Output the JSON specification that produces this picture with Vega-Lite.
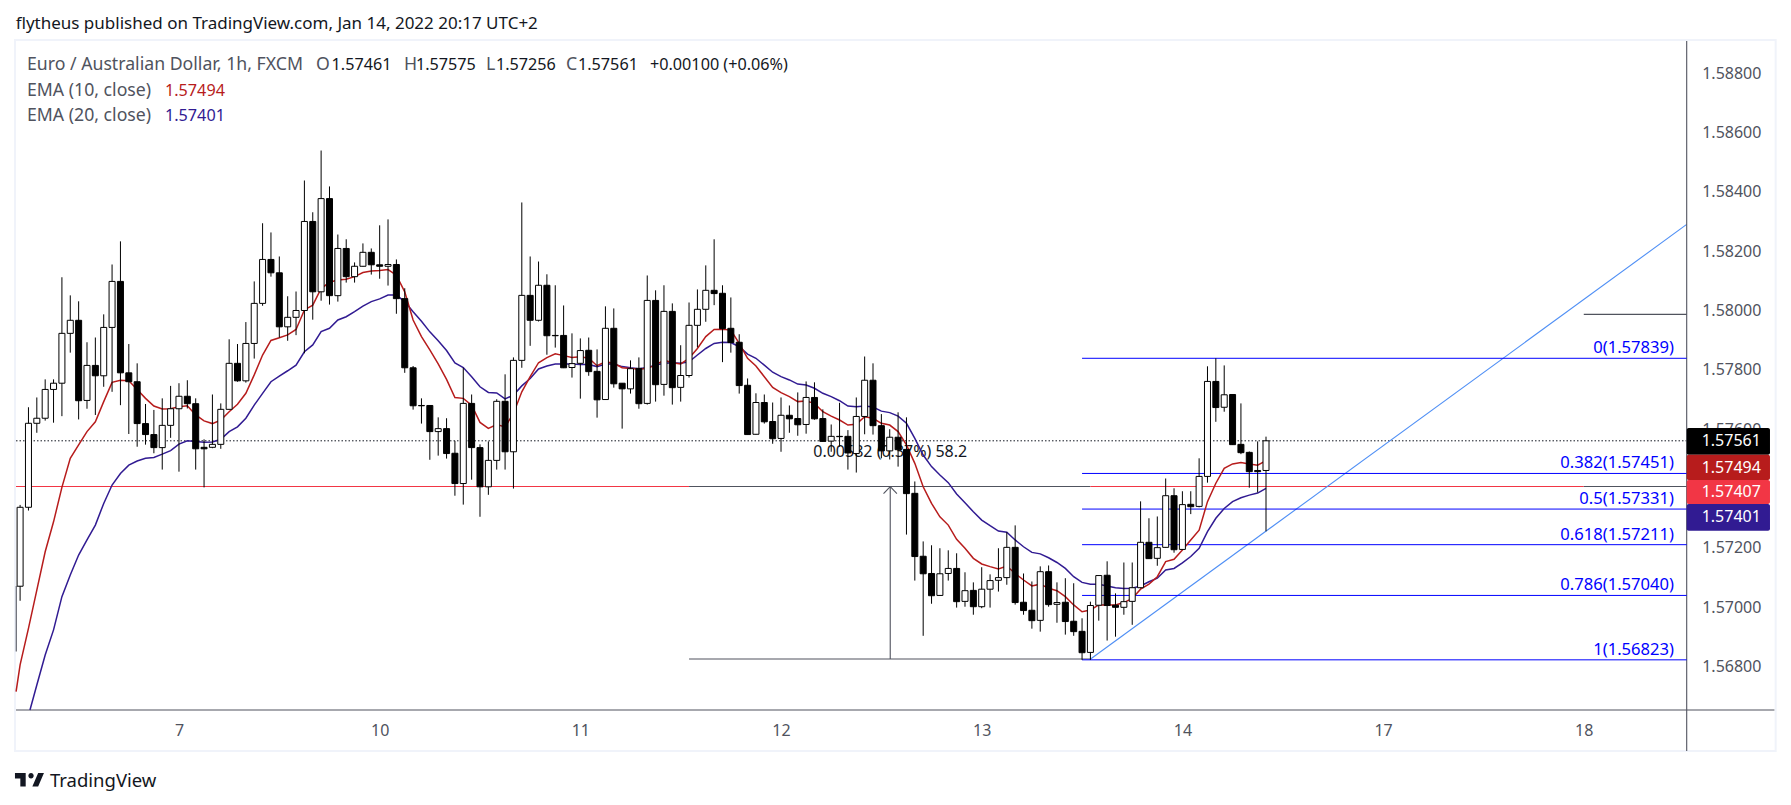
{"$schema":"https://vega.github.io/schema/vega-lite/v6.json","width":1670.7,"height":669,"autosize":"none","padding":{"left":16,"top":41,"right":104.3,"bottom":95},"background":"#ffffff","view":{"stroke":null},
"config":{"font":"Noto Sans","text":{"font":"Noto Sans","fontSize":16}},
"datasets":{
"candles":[{"i":-19,"o":1.57071,"h":1.57345,"l":1.57022,"c":1.57337},{"i":-18,"o":1.57337,"h":1.57674,"l":1.57326,"c":1.5762},{"i":-17,"o":1.5762,"h":1.57707,"l":1.57588,"c":1.57637},{"i":-16,"o":1.57637,"h":1.57768,"l":1.57629,"c":1.57734},{"i":-15,"o":1.57734,"h":1.57768,"l":1.57622,"c":1.57755},{"i":-14,"o":1.57755,"h":1.58112,"l":1.57644,"c":1.57923},{"i":-13,"o":1.57923,"h":1.58051,"l":1.57858,"c":1.57967},{"i":-12,"o":1.57967,"h":1.58031,"l":1.57633,"c":1.57696},{"i":-11,"o":1.57697,"h":1.57893,"l":1.57669,"c":1.57815},{"i":-10,"o":1.57815,"h":1.57909,"l":1.57648,"c":1.5778},{"i":-9,"o":1.5778,"h":1.57987,"l":1.57743,"c":1.57943},{"i":-8,"o":1.57943,"h":1.58155,"l":1.57726,"c":1.58098},{"i":-7,"o":1.58098,"h":1.58233,"l":1.57681,"c":1.5779},{"i":-6,"o":1.5779,"h":1.57887,"l":1.57584,"c":1.5776},{"i":-5,"o":1.5776,"h":1.57822,"l":1.57541,"c":1.57619},{"i":-4,"o":1.57619,"h":1.57685,"l":1.57548,"c":1.57582},{"i":-3,"o":1.57582,"h":1.57665,"l":1.57519,"c":1.57538},{"i":-2,"o":1.57538,"h":1.57704,"l":1.57464,"c":1.57613},{"i":-1,"o":1.57613,"h":1.57746,"l":1.57571,"c":1.57669},{"i":0,"o":1.57669,"h":1.57755,"l":1.57457,"c":1.57711},{"i":1,"o":1.57711,"h":1.57765,"l":1.5767,"c":1.57686},{"i":2,"o":1.57686,"h":1.57704,"l":1.57464,"c":1.57534},{"i":3,"o":1.57539,"h":1.57566,"l":1.57404,"c":1.57534},{"i":4,"o":1.57539,"h":1.57717,"l":1.57536,"c":1.57549},{"i":5,"o":1.57549,"h":1.57687,"l":1.57534,"c":1.57667},{"i":6,"o":1.57667,"h":1.57903,"l":1.57667,"c":1.57822},{"i":7,"o":1.57822,"h":1.57887,"l":1.5776,"c":1.57763},{"i":8,"o":1.57763,"h":1.57961,"l":1.57757,"c":1.57889},{"i":9,"o":1.57889,"h":1.58098,"l":1.57838,"c":1.58024},{"i":10,"o":1.58024,"h":1.58294,"l":1.58016,"c":1.58172},{"i":11,"o":1.58172,"h":1.58263,"l":1.58114,"c":1.58127},{"i":12,"o":1.58127,"h":1.58182,"l":1.57909,"c":1.57945},{"i":13,"o":1.57945,"h":1.58048,"l":1.57898,"c":1.57977},{"i":14,"o":1.57977,"h":1.58064,"l":1.57917,"c":1.58},{"i":15,"o":1.58,"h":1.58438,"l":1.57856,"c":1.583},{"i":16,"o":1.583,"h":1.58331,"l":1.57969,"c":1.58063},{"i":17,"o":1.58063,"h":1.58539,"l":1.58033,"c":1.58377},{"i":18,"o":1.58377,"h":1.58418,"l":1.5802,"c":1.5805},{"i":19,"o":1.5805,"h":1.58256,"l":1.5803,"c":1.58209},{"i":20,"o":1.58209,"h":1.5824,"l":1.58094,"c":1.58114},{"i":21,"o":1.58114,"h":1.58162,"l":1.58094,"c":1.58149},{"i":22,"o":1.58149,"h":1.58226,"l":1.58148,"c":1.58196},{"i":23,"o":1.58196,"h":1.58209,"l":1.58121,"c":1.58154},{"i":24,"o":1.58154,"h":1.58287,"l":1.58107,"c":1.58149},{"i":25,"o":1.58149,"h":1.58307,"l":1.58084,"c":1.58155},{"i":26,"o":1.58155,"h":1.58172,"l":1.57989,"c":1.5804},{"i":27,"o":1.5804,"h":1.58075,"l":1.5779,"c":1.57807},{"i":28,"o":1.57807,"h":1.57813,"l":1.57666,"c":1.57679},{"i":29,"o":1.5768,"h":1.57704,"l":1.57619,"c":1.57679},{"i":30,"o":1.5768,"h":1.5768,"l":1.57497,"c":1.57592},{"i":31,"o":1.57592,"h":1.5764,"l":1.57511,"c":1.57602},{"i":32,"o":1.57602,"h":1.57637,"l":1.57501,"c":1.57518},{"i":33,"o":1.57519,"h":1.57561,"l":1.57376,"c":1.57417},{"i":34,"o":1.57417,"h":1.57807,"l":1.57346,"c":1.57687},{"i":35,"o":1.57687,"h":1.57717,"l":1.5743,"c":1.57538},{"i":36,"o":1.57538,"h":1.57549,"l":1.57305,"c":1.57406},{"i":37,"o":1.57406,"h":1.57559,"l":1.57379,"c":1.57495},{"i":38,"o":1.57495,"h":1.57701,"l":1.57464,"c":1.57694},{"i":39,"o":1.57694,"h":1.57785,"l":1.57464,"c":1.57524},{"i":40,"o":1.57524,"h":1.57842,"l":1.574,"c":1.57832},{"i":41,"o":1.57832,"h":1.58364,"l":1.57807,"c":1.58051},{"i":42,"o":1.58051,"h":1.58182,"l":1.57881,"c":1.57967},{"i":43,"o":1.57967,"h":1.58165,"l":1.57963,"c":1.58085},{"i":44,"o":1.58085,"h":1.58122,"l":1.57851,"c":1.57915},{"i":45,"o":1.57916,"h":1.58085,"l":1.57875,"c":1.57915},{"i":46,"o":1.57916,"h":1.58017,"l":1.57806,"c":1.57807},{"i":47,"o":1.57808,"h":1.57923,"l":1.57774,"c":1.57821},{"i":48,"o":1.57822,"h":1.57906,"l":1.57703,"c":1.57865},{"i":49,"o":1.57866,"h":1.57909,"l":1.5778,"c":1.57794},{"i":50,"o":1.57795,"h":1.57869,"l":1.57639,"c":1.57699},{"i":51,"o":1.577,"h":1.58014,"l":1.57699,"c":1.5794},{"i":52,"o":1.5794,"h":1.58007,"l":1.5774,"c":1.57753},{"i":53,"o":1.57755,"h":1.57755,"l":1.57602,"c":1.57736},{"i":54,"o":1.57736,"h":1.57832,"l":1.5772,"c":1.57804},{"i":55,"o":1.57805,"h":1.57842,"l":1.57669,"c":1.57686},{"i":56,"o":1.57687,"h":1.58118,"l":1.57683,"c":1.58034},{"i":57,"o":1.58034,"h":1.58068,"l":1.57693,"c":1.5775},{"i":58,"o":1.57751,"h":1.58085,"l":1.57713,"c":1.57997},{"i":59,"o":1.57997,"h":1.58024,"l":1.57683,"c":1.5774},{"i":60,"o":1.57741,"h":1.57883,"l":1.57693,"c":1.57781},{"i":61,"o":1.57781,"h":1.58027,"l":1.57774,"c":1.5795},{"i":62,"o":1.5795,"h":1.58071,"l":1.57876,"c":1.58004},{"i":63,"o":1.58004,"h":1.58152,"l":1.57962,"c":1.58068},{"i":64,"o":1.58068,"h":1.5824,"l":1.58018,"c":1.58057},{"i":65,"o":1.58058,"h":1.58085,"l":1.57826,"c":1.57939},{"i":66,"o":1.5794,"h":1.58044,"l":1.57858,"c":1.57892},{"i":67,"o":1.57893,"h":1.5792,"l":1.5772,"c":1.57747},{"i":68,"o":1.57748,"h":1.57771,"l":1.57582,"c":1.57582},{"i":69,"o":1.57583,"h":1.57721,"l":1.57582,"c":1.5769},{"i":70,"o":1.5769,"h":1.57717,"l":1.57619,"c":1.57625},{"i":71,"o":1.57626,"h":1.5769,"l":1.57551,"c":1.57568},{"i":72,"o":1.57569,"h":1.57707,"l":1.57524,"c":1.57647},{"i":73,"o":1.57647,"h":1.5768,"l":1.57588,"c":1.57635},{"i":74,"o":1.57636,"h":1.57724,"l":1.57578,"c":1.57615},{"i":75,"o":1.57616,"h":1.57761,"l":1.57585,"c":1.57707},{"i":76,"o":1.57707,"h":1.57758,"l":1.57632,"c":1.57635},{"i":77,"o":1.57636,"h":1.57667,"l":1.57558,"c":1.57559},{"i":78,"o":1.5756,"h":1.57616,"l":1.57524,"c":1.57576},{"i":79,"o":1.57576,"h":1.57689,"l":1.57541,"c":1.57575},{"i":80,"o":1.57576,"h":1.57597,"l":1.57464,"c":1.5752},{"i":81,"o":1.57518,"h":1.57707,"l":1.57454,"c":1.57643},{"i":82,"o":1.57643,"h":1.57845,"l":1.57583,"c":1.57765},{"i":83,"o":1.57765,"h":1.57822,"l":1.57582,"c":1.57612},{"i":84,"o":1.57612,"h":1.57651,"l":1.57502,"c":1.57527},{"i":85,"o":1.57527,"h":1.576,"l":1.57498,"c":1.57573},{"i":86,"o":1.57573,"h":1.57657,"l":1.57474,"c":1.57531},{"i":87,"o":1.57532,"h":1.5764,"l":1.57245,"c":1.57383},{"i":88,"o":1.57384,"h":1.57424,"l":1.5709,"c":1.57171},{"i":89,"o":1.57172,"h":1.57222,"l":1.56904,"c":1.57113},{"i":90,"o":1.57114,"h":1.57209,"l":1.57012,"c":1.57039},{"i":91,"o":1.5704,"h":1.57199,"l":1.57039,"c":1.57113},{"i":92,"o":1.57114,"h":1.57192,"l":1.5709,"c":1.57131},{"i":93,"o":1.57131,"h":1.57182,"l":1.56999,"c":1.57019},{"i":94,"o":1.5702,"h":1.57118,"l":1.57002,"c":1.57056},{"i":95,"o":1.57057,"h":1.57084,"l":1.56975,"c":1.57002},{"i":96,"o":1.57002,"h":1.57135,"l":1.56997,"c":1.57061},{"i":97,"o":1.57061,"h":1.57111,"l":1.56999,"c":1.5709},{"i":98,"o":1.57091,"h":1.57199,"l":1.57053,"c":1.571},{"i":99,"o":1.571,"h":1.57253,"l":1.57076,"c":1.57202},{"i":100,"o":1.57202,"h":1.57276,"l":1.57009,"c":1.57016},{"i":101,"o":1.57017,"h":1.57114,"l":1.56975,"c":1.56989},{"i":102,"o":1.5699,"h":1.57087,"l":1.56928,"c":1.56955},{"i":103,"o":1.56956,"h":1.57138,"l":1.56918,"c":1.5712},{"i":104,"o":1.5712,"h":1.57141,"l":1.57002,"c":1.57009},{"i":105,"o":1.5701,"h":1.57084,"l":1.56948,"c":1.57016},{"i":106,"o":1.57017,"h":1.57098,"l":1.56908,"c":1.56952},{"i":107,"o":1.56953,"h":1.57081,"l":1.56904,"c":1.56918},{"i":108,"o":1.56919,"h":1.56963,"l":1.56823,"c":1.56847},{"i":109,"o":1.56848,"h":1.57019,"l":1.56823,"c":1.57006},{"i":110,"o":1.57007,"h":1.57107,"l":1.56955,"c":1.57107},{"i":111,"o":1.57108,"h":1.57155,"l":1.56888,"c":1.57006},{"i":112,"o":1.57007,"h":1.57047,"l":1.56901,"c":1.57},{"i":113,"o":1.57,"h":1.57151,"l":1.56975,"c":1.57019},{"i":114,"o":1.5702,"h":1.57151,"l":1.56941,"c":1.57066},{"i":115,"o":1.57066,"h":1.57357,"l":1.57064,"c":1.57219},{"i":116,"o":1.57219,"h":1.573,"l":1.57163,"c":1.57164},{"i":117,"o":1.57165,"h":1.57306,"l":1.5714,"c":1.57201},{"i":118,"o":1.57202,"h":1.57434,"l":1.57201,"c":1.57376},{"i":119,"o":1.57376,"h":1.57401,"l":1.57184,"c":1.57194},{"i":120,"o":1.57195,"h":1.57391,"l":1.57193,"c":1.57346},{"i":121,"o":1.57347,"h":1.57391,"l":1.57314,"c":1.57339},{"i":122,"o":1.5734,"h":1.57502,"l":1.57337,"c":1.57441},{"i":123,"o":1.57441,"h":1.57812,"l":1.5742,"c":1.57761},{"i":124,"o":1.57761,"h":1.57839,"l":1.57625,"c":1.57673},{"i":125,"o":1.57674,"h":1.57815,"l":1.57659,"c":1.57716},{"i":126,"o":1.57717,"h":1.57717,"l":1.57547,"c":1.57548},{"i":127,"o":1.57549,"h":1.57687,"l":1.57516,"c":1.57521},{"i":128,"o":1.57522,"h":1.57525,"l":1.57403,"c":1.57457},{"i":129,"o":1.57461,"h":1.57559,"l":1.57387,"c":1.57457},{"i":130,"o":1.57461,"h":1.57575,"l":1.57256,"c":1.57561}],
"ema10":[[-19.48,1.56716],[-19,1.56806],[-18,1.56929],[-17,1.57058],[-16,1.57187],[-15,1.57288],[-14,1.57404],[-13,1.57502],[-12,1.57547],[-11,1.57592],[-10,1.57625],[-9,1.57693],[-8,1.57758],[-7,1.57765],[-6,1.57763],[-5,1.57734],[-4,1.57704],[-3,1.57678],[-2,1.57668],[-1,1.57669],[0,1.57676],[1,1.57679],[2,1.57648],[3,1.57628],[4,1.57619],[5,1.57631],[6,1.57659],[7,1.57684],[8,1.57721],[9,1.57783],[10,1.5785],[11,1.57899],[12,1.57908],[13,1.57918],[14,1.57936],[15,1.58002],[16,1.58018],[17,1.58074],[18,1.58095],[19,1.58103],[20,1.58105],[21,1.58114],[22,1.58128],[23,1.58133],[24,1.58135],[25,1.58138],[26,1.58119],[27,1.58063],[28,1.57968],[29,1.57912],[30,1.57867],[31,1.5782],[32,1.57768],[33,1.57707],[34,1.57704],[35,1.57681],[36,1.57623],[37,1.57603],[38,1.57616],[39,1.57608],[40,1.57653],[41,1.57726],[42,1.57777],[43,1.57824],[44,1.57841],[45,1.57854],[46,1.57848],[47,1.57842],[48,1.57844],[49,1.57839],[50,1.57814],[51,1.57827],[52,1.57822],[53,1.57807],[54,1.57805],[55,1.57802],[56,1.57805],[57,1.57816],[58,1.57833],[59,1.57824],[60,1.5782],[61,1.57839],[62,1.57872],[63,1.57912],[64,1.57936],[65,1.57937],[66,1.57934],[67,1.57889],[68,1.57839],[69,1.57813],[70,1.57777],[71,1.57741],[72,1.57723],[73,1.5771],[74,1.57693],[75,1.57695],[76,1.57687],[77,1.57659],[78,1.57644],[79,1.57631],[80,1.57614],[81,1.57617],[82,1.57642],[83,1.57637],[84,1.5762],[85,1.57614],[86,1.57592],[87,1.57547],[88,1.57485],[89,1.57406],[90,1.5735],[91,1.57305],[92,1.57277],[93,1.57229],[94,1.57199],[95,1.57165],[96,1.57146],[97,1.57137],[98,1.57129],[99,1.57139],[100,1.57114],[101,1.57092],[102,1.57072],[103,1.57078],[104,1.57064],[105,1.57056],[106,1.57036],[107,1.57008],[108,1.56985],[109,1.56991],[110,1.57008],[111,1.57008],[112,1.57008],[113,1.57016],[114,1.5703],[115,1.57061],[116,1.57078],[117,1.57103],[118,1.57154],[119,1.57162],[120,1.57193],[121,1.57227],[122,1.5726],[123,1.57356],[124,1.57418],[125,1.57468],[126,1.57483],[127,1.57488],[128,1.57483],[129,1.57479],[130,1.57494]],
"ema20":[[-17.82,1.56654],[-17,1.56738],[-16,1.56839],[-15,1.56924],[-14,1.57036],[-13,1.57109],[-12,1.57176],[-11,1.57227],[-10,1.57277],[-9,1.5735],[-8,1.57412],[-7,1.57451],[-6,1.57479],[-5,1.57493],[-4,1.57502],[-3,1.57505],[-2,1.57516],[-1,1.57528],[0,1.5755],[1,1.57561],[2,1.57559],[3,1.57556],[4,1.57557],[5,1.57566],[6,1.57592],[7,1.57608],[8,1.57637],[9,1.57681],[10,1.57721],[11,1.5776],[12,1.57779],[13,1.57797],[14,1.57816],[15,1.57861],[16,1.57884],[17,1.57929],[18,1.5794],[19,1.57968],[20,1.57979],[21,1.57996],[22,1.58015],[23,1.5803],[24,1.58039],[25,1.58052],[26,1.58052],[27,1.5803],[28,1.57996],[29,1.57964],[30,1.57928],[31,1.57898],[32,1.57865],[33,1.57823],[34,1.57808],[35,1.57777],[36,1.57743],[37,1.57724],[38,1.57722],[39,1.57702],[40,1.57715],[41,1.57746],[42,1.57771],[43,1.57803],[44,1.57813],[45,1.5782],[46,1.5782],[47,1.5782],[48,1.57818],[49,1.57818],[50,1.57811],[51,1.5782],[52,1.5782],[53,1.57811],[54,1.57807],[55,1.57804],[56,1.57808],[57,1.57816],[58,1.57822],[59,1.57824],[60,1.57822],[61,1.57827],[62,1.5785],[63,1.57872],[64,1.57889],[65,1.57893],[66,1.57892],[67,1.57878],[68,1.57853],[69,1.57839],[70,1.57816],[71,1.57792],[72,1.57777],[73,1.57766],[74,1.57752],[75,1.57749],[76,1.57738],[77,1.57721],[78,1.5771],[79,1.57696],[80,1.57678],[81,1.57676],[82,1.57678],[83,1.57675],[84,1.57661],[85,1.57656],[86,1.57644],[87,1.5762],[88,1.57569],[89,1.57513],[90,1.57474],[91,1.57446],[92,1.5742],[93,1.57382],[94,1.57352],[95,1.57322],[96,1.57294],[97,1.57275],[98,1.57257],[99,1.57253],[100,1.57227],[101,1.57204],[102,1.57185],[103,1.5718],[104,1.57167],[105,1.57151],[106,1.57131],[107,1.57103],[108,1.57084],[109,1.57078],[110,1.57078],[111,1.57072],[112,1.57066],[113,1.57063],[114,1.57064],[115,1.57072],[116,1.57086],[117,1.57098],[118,1.57126],[119,1.57131],[120,1.5715],[121,1.57171],[122,1.57199],[123,1.57255],[124,1.573],[125,1.57333],[126,1.57356],[127,1.57369],[128,1.57378],[129,1.57385],[130,1.57401]],
"segments":[{"kind":"alert","i":-19.49,"i2":61,"p":1.57407,"p2":1.57407},{"kind":"axis","i":61,"i2":109,"p":1.57407,"p2":1.57407},{"kind":"alert","i":109,"i2":168,"p":1.57407,"p2":1.57407},{"kind":"axis","i":168,"i2":180.31,"p":1.57407,"p2":1.57407},{"kind":"axis","i":61,"i2":109,"p":1.56826,"p2":1.56826},{"kind":"axis","i":85.06,"i2":85.06,"p":1.56826,"p2":1.57407},{"kind":"axis","i":84.26,"i2":85.06,"p":1.57383,"p2":1.57407},{"kind":"axis","i":85.86,"i2":85.06,"p":1.57383,"p2":1.57407},{"kind":"axis","i":168,"i2":180.31,"p":1.57987,"p2":1.57987},{"kind":"trend","i":108.94,"i2":180.31,"p":1.56824,"p2":1.5829},{"kind":"axis","i":-19.46,"i2":-19.46,"p":1.56851,"p2":1.57072},{"kind":"axis","i":-19.49,"i2":190.8,"p":1.56654,"p2":1.56654},{"kind":"axis","i":180.31,"i2":180.31,"p":1.58908,"p2":1.56516}],
"fib":[{"p":1.57839,"label":"0(1.57839)"},{"p":1.57451,"label":"0.382(1.57451)"},{"p":1.57331,"label":"0.5(1.57331)"},{"p":1.57211,"label":"0.618(1.57211)"},{"p":1.5704,"label":"0.786(1.57040)"},{"p":1.56823,"label":"1(1.56823)"}],
"badges":[{"kind":"last","label":"1.57561","p":1.57604,"p2":1.57514,"pm":1.5756},{"kind":"ema10","label":"1.57494","p":1.57514,"p2":1.57429,"pm":1.57471},{"kind":"alert","label":"1.57407","p":1.57429,"p2":1.57348,"pm":1.57388},{"kind":"ema20","label":"1.57401","p":1.57348,"p2":1.57258,"pm":1.57303}],
"labels":[{"kind":"gray","i":-18.18,"p":1.58828,"label":"Euro / Australian Dollar, 1h, FXCM"},{"kind":"gray","i":16.38,"p":1.58828,"label":"O"},{"kind":"dark","i":18.25,"p":1.58828,"label":"1.57461"},{"kind":"gray","i":26.9,"p":1.58828,"label":"H"},{"kind":"dark","i":28.34,"p":1.58828,"label":"1.57575"},{"kind":"gray","i":36.71,"p":1.58828,"label":"L"},{"kind":"dark","i":37.91,"p":1.58828,"label":"1.57256"},{"kind":"gray","i":46.28,"p":1.58828,"label":"C"},{"kind":"dark","i":47.72,"p":1.58828,"label":"1.57561"},{"kind":"dark","i":56.33,"p":1.58828,"label":"+0.00100 (+0.06%)"},{"kind":"gray","i":-18.18,"p":1.5874,"label":"EMA (10, close)"},{"kind":"ema10","i":-1.67,"p":1.5874,"label":"1.57494"},{"kind":"gray","i":-18.18,"p":1.58654,"label":"EMA (20, close)"},{"kind":"ema20","i":-1.67,"p":1.58654,"label":"1.57401"}]
},
"encoding":{
"x":{"field":"i","type":"quantitative","scale":{"domain":[-19.49,180.31],"nice":false,"zero":false,"padding":0},"axis":{"title":null,"values":[0,24,48,72,96,120,144,168],"labelExpr":"['7','10','11','12','13','14','17','18'][datum.value/24]","domain":false,"grid":false,"ticks":false,"labelPadding":12,"labelFontSize":16,"labelFont":"Noto Sans","labelColor":"#50535e","labelFlush":false,"labelOverlap":false}},
"y":{"field":"p","type":"quantitative","scale":{"domain":[1.56654,1.58908],"nice":false,"zero":false},"axis":{"title":null,"orient":"right","values":[1.568,1.57,1.572,1.574,1.576,1.578,1.58,1.582,1.584,1.586,1.588],"format":".5f","domain":false,"grid":false,"ticks":false,"labelPadding":15,"labelFontSize":16,"labelFont":"Noto Sans","labelColor":"#50535e","labelOverlap":false}}
},
"layer":[
{"data":{"values":[{"i":-19.61,"i2":190.95,"p":1.58911,"p2":1.56516}]},"mark":{"type":"rect","fillOpacity":0,"stroke":"#f0f3fa","strokeWidth":2},"encoding":{"x2":{"field":"i2"},"y2":{"field":"p2"}}},
{"data":{"values":[{"i":-19.49,"i2":180.31,"p":1.57561}]},"mark":{"type":"rule","color":"#131722","strokeWidth":1,"strokeDash":[1.5,2]},"encoding":{"x2":{"field":"i2"}}},
{"data":{"name":"segments"},"mark":{"type":"rule","strokeWidth":1.1},"encoding":{"x2":{"field":"i2"},"y2":{"field":"p2"},"color":{"field":"kind","type":"nominal","legend":null,"scale":{"domain":["axis","alert","trend","last","ema10","ema20","gray","dark"],"range":["#50535e","#f23645","#4f8ff5","#000000","#b71c1c","#311b92","#50535e","#131722"]}}}},
{"data":{"name":"fib"},"transform":[{"calculate":"108","as":"i"},{"calculate":"180.31","as":"i2"}],"mark":{"type":"rule","color":"#0000ff","strokeWidth":1},"encoding":{"x2":{"field":"i2"}}},
{"data":{"name":"fib"},"transform":[{"calculate":"178.8","as":"i"}],"mark":{"type":"text","align":"right","baseline":"middle","dy":-10,"color":"#0000ff","fontSize":16.6},"encoding":{"text":{"field":"label"}}},
{"data":{"values":[{"i":85.06,"p":1.57523,"label":"0.00582 (0.37%) 58.2"}]},"mark":{"type":"text","align":"center","baseline":"middle","color":"#131722","fontSize":16},"encoding":{"text":{"field":"label"}}},
{"data":{"name":"ema20"},"mark":{"type":"line","color":"#311b92","strokeWidth":1.5},"encoding":{"x":{"field":"0","type":"quantitative"},"y":{"field":"1","type":"quantitative","title":null}}},
{"data":{"name":"ema10"},"mark":{"type":"line","color":"#b71c1c","strokeWidth":1.5},"encoding":{"x":{"field":"0","type":"quantitative"},"y":{"field":"1","type":"quantitative","title":null}}},
{"data":{"name":"candles"},"mark":{"type":"rule","color":"#000000","strokeWidth":1},"encoding":{"y":{"field":"l","type":"quantitative","title":null},"y2":{"field":"h"}}},
{"data":{"name":"candles"},"mark":{"type":"bar","size":6,"stroke":"#000000","strokeWidth":1},"encoding":{"y":{"field":"o","type":"quantitative","title":null},"y2":{"field":"c"},"fill":{"condition":{"test":"datum.c>=datum.o","value":"#ffffff"},"value":"#000000"}}},
{"data":{"name":"badges"},"transform":[{"calculate":"180.31","as":"i"},{"calculate":"190.27","as":"i2"}],"mark":{"type":"rect","cornerRadius":2},"encoding":{"x2":{"field":"i2"},"y2":{"field":"p2"},"color":{"field":"kind","type":"nominal","legend":null}}},
{"data":{"name":"badges"},"transform":[{"calculate":"182.1","as":"i"}],"mark":{"type":"text","align":"left","baseline":"middle","color":"#ffffff","fontSize":16},"encoding":{"y":{"field":"pm","type":"quantitative","title":null},"text":{"field":"label"}}},
{"data":{"values":[{"i":-19.53,"p":1.58965,"label":"flytheus published on TradingView.com, Jan 14, 2022 20:17 UTC+2"}]},"mark":{"type":"text","align":"left","baseline":"middle","fontSize":17,"color":"#131722"},"encoding":{"text":{"field":"label"}}},
{"data":{"name":"labels"},"transform":[{"filter":"datum.kind=='gray'"}],"mark":{"type":"text","align":"left","baseline":"middle","fontSize":17.7},"encoding":{"text":{"field":"label"},"color":{"field":"kind","type":"nominal","legend":null}}},
{"data":{"name":"labels"},"transform":[{"filter":"datum.kind!='gray'"}],"mark":{"type":"text","align":"left","baseline":"middle","fontSize":16.2},"encoding":{"text":{"field":"label"},"color":{"field":"kind","type":"nominal","legend":null}}},
{"data":{"values":[{"i":-15.43,"p":1.56415,"label":"TradingView"}]},"mark":{"type":"text","align":"left","baseline":"middle","fontSize":18.5,"color":"#131722"},"encoding":{"text":{"field":"label"}}},
{"data":{"values":[{"i":-17.88,"p":1.56419}]},"mark":{"type":"point","filled":true,"opacity":1,"color":"#131722","size":841,"strokeWidth":0,"shape":"M-0.26 -0.46L-1 -0.46L-1 -0.09L-0.63 -0.09L-0.63 0.46L-0.26 0.46ZM0.6 0.46L0.2 0.46L0.6 -0.46L1 -0.46ZM-0.077 -0.277A0.185 0.185 0 1 1 0.293 -0.277A0.185 0.185 0 1 1 -0.077 -0.277Z"}}
]}
